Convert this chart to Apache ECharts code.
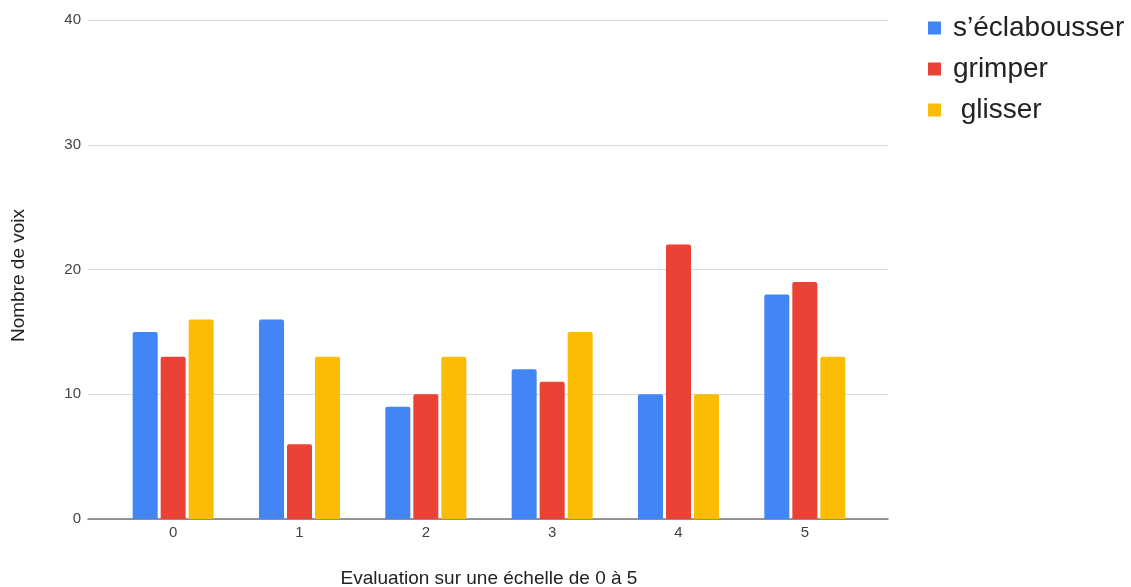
<!DOCTYPE html>
<html>
<head>
<meta charset="utf-8">
<script src="https://cdn.jsdelivr.net/npm/echarts@6/dist/echarts.min.js"></script>
<style>html,body{margin:0;padding:0;background:#fff;overflow:hidden}#c{width:1131px;height:587px}</style>
</head>
<body>
<div id="c"></div>
<script>
const categories = ['0', '1', '2', '3', '4', '5'];
const seriesNames = ['s\u2019éclabousser', 'grimper', ' glisser'];
const eclabousser = [15, 16, 9, 12, 10, 18];
const grimper = [13, 6, 10, 11, 22, 19];
const glisser = [16, 13, 13, 15, 10, 13];
const colors = ['#4285f4', '#ea4335', '#fbbc04'];
const yTicks = [0, 10, 20, 30, 40];

const FONT = '"Liberation Sans", Arial, sans-serif';
const chart = echarts.init(document.getElementById('c'));
const values = [eclabousser, grimper, glisser];
chart.setOption({
  animation: false,
  textStyle: { fontFamily: FONT },
  grid: [
    { left: 88, right: 243, top: 20, bottom: 68, outerBoundsMode: 'none', containLabel: false },
    { left: 110, right: 263, top: 20, bottom: 68, outerBoundsMode: 'none', containLabel: false }
  ],
  legend: {
    orient: 'vertical',
    left: 928, top: 14, padding: 0,
    itemWidth: 13, itemHeight: 13, itemGap: 13,
    icon: 'rect',
    textStyle: { fontSize: 28, color: '#222', fontFamily: FONT, padding: [0, 0, 0, 7] },
    data: seriesNames
  },
  xAxis: [
    {
      gridIndex: 0, type: 'category', data: [''],
      axisLine: { lineStyle: { color: '#777', width: 1.5 } },
      axisTick: { show: false }, axisLabel: { show: false }, splitLine: { show: false }
    },
    {
      gridIndex: 1, type: 'category',
      data: categories,
      name: 'Evaluation sur une échelle de 0 à 5',
      nameLocation: 'middle',
      nameGap: 50,
      nameTextStyle: { fontSize: 19, color: '#222', fontFamily: FONT },
      axisLine: { show: false },
      axisTick: { show: false },
      axisLabel: { fontSize: 15, color: '#444', margin: 6, fontFamily: FONT }
    }
  ],
  yAxis: [
    {
      gridIndex: 0, type: 'value',
      min: yTicks[0], max: yTicks[yTicks.length - 1], interval: 10,
      name: 'Nombre de voix',
      nameLocation: 'middle',
      nameGap: 60,
      nameTextStyle: { fontSize: 19, color: '#222', fontFamily: FONT, padding: [0, 12, 0, 0] },
      axisLine: { show: false },
      axisTick: { show: false },
      axisLabel: { fontSize: 15, color: '#444', margin: 7, fontFamily: FONT },
      splitLine: { lineStyle: { color: '#d9d9d9', width: 1 } }
    },
    {
      gridIndex: 1, type: 'value',
      min: yTicks[0], max: yTicks[yTicks.length - 1], interval: 10,
      show: false, splitLine: { show: false }
    }
  ],
  series: seriesNames.map((n, i) => ({
    name: n,
    type: 'bar',
    xAxisIndex: 1, yAxisIndex: 1,
    data: values[i],
    barWidth: 25,
    barGap: '12%',
    itemStyle: { color: colors[i], borderRadius: [2, 2, 0, 0] }
  }))
});
</script>
</body>
</html>
